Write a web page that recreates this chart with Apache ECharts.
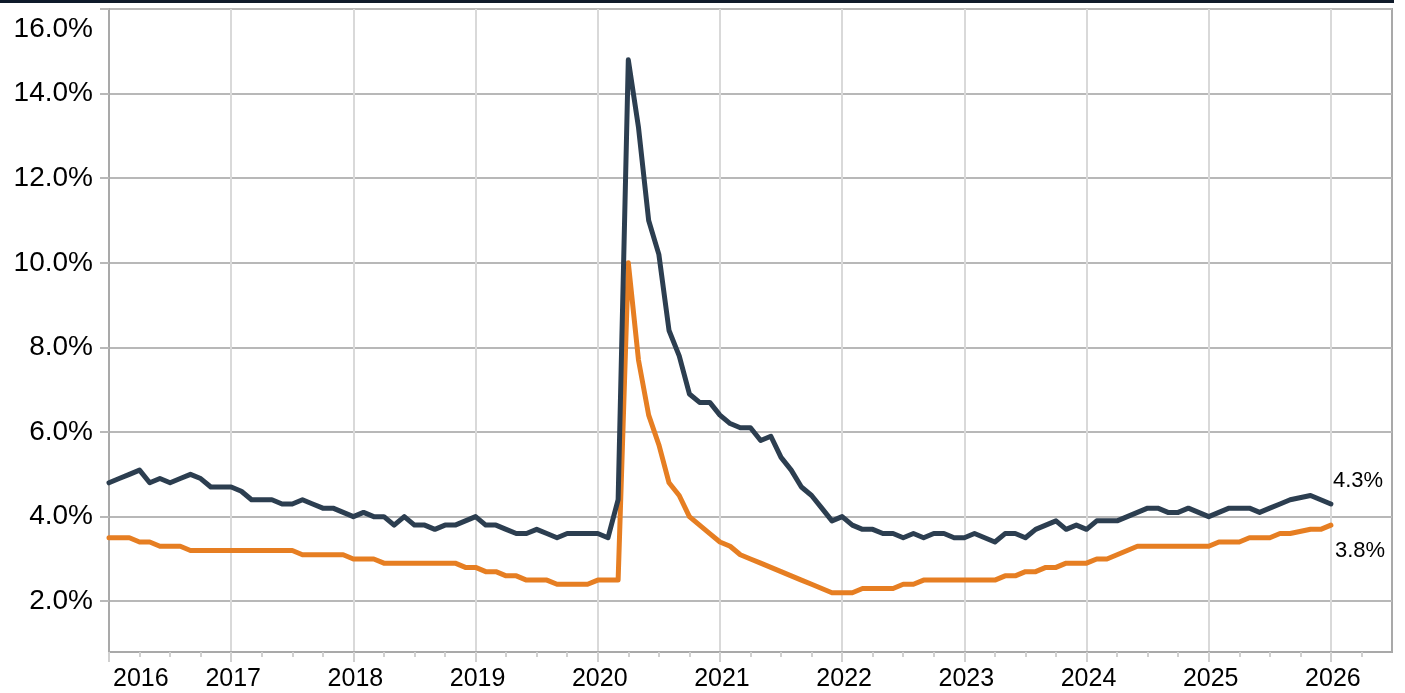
<!DOCTYPE html>
<html><head><meta charset="utf-8">
<script src="https://cdn.jsdelivr.net/npm/echarts@6/dist/echarts.min.js"></script>
<style>html,body{margin:0;padding:0;background:#fff;}#c{width:1405px;height:693px;}</style>
</head><body><div id="c"></div>
<script>
// Monthly data, Jan 2016 .. Jan 2026 (null = no published value)
const startYear = 2016;
const darkSeries = [
  4.8,4.9,5.0,5.1,4.8,4.9,4.8,4.9,5.0,4.9,4.7,4.7,
  4.7,4.6,4.4,4.4,4.4,4.3,4.3,4.4,4.3,4.2,4.2,4.1,
  4.0,4.1,4.0,4.0,3.8,4.0,3.8,3.8,3.7,3.8,3.8,3.9,
  4.0,3.8,3.8,3.7,3.6,3.6,3.7,3.6,3.5,3.6,3.6,3.6,
  3.6,3.5,4.4,14.8,13.2,11.0,10.2,8.4,7.8,6.9,6.7,6.7,
  6.4,6.2,6.1,6.1,5.8,5.9,5.4,5.1,4.7,4.5,4.2,3.9,
  4.0,3.8,3.7,3.7,3.6,3.6,3.5,3.6,3.5,3.6,3.6,3.5,
  3.5,3.6,3.5,3.4,3.6,3.6,3.5,3.7,3.8,3.9,3.7,3.8,
  3.7,3.9,3.9,3.9,4.0,4.1,4.2,4.2,4.1,4.1,4.2,4.1,
  4.0,4.1,4.2,4.2,4.2,4.1,4.2,4.3,4.4,null,4.5,4.4,
  4.3
];
const orangeSeries = [
  3.5,3.5,3.5,3.4,3.4,3.3,3.3,3.3,3.2,3.2,3.2,3.2,
  3.2,3.2,3.2,3.2,3.2,3.2,3.2,3.1,3.1,3.1,3.1,3.1,
  3.0,3.0,3.0,2.9,2.9,2.9,2.9,2.9,2.9,2.9,2.9,2.8,
  2.8,2.7,2.7,2.6,2.6,2.5,2.5,2.5,2.4,2.4,2.4,2.4,
  2.5,2.5,2.5,10.0,7.7,6.4,5.7,4.8,4.5,4.0,3.8,3.6,
  3.4,3.3,3.1,3.0,2.9,2.8,2.7,2.6,2.5,2.4,2.3,2.2,
  2.2,2.2,2.3,2.3,2.3,2.3,2.4,2.4,2.5,2.5,2.5,2.5,
  2.5,2.5,2.5,2.5,2.6,2.6,2.7,2.7,2.8,2.8,2.9,2.9,
  2.9,3.0,3.0,3.1,3.2,3.3,3.3,3.3,3.3,3.3,3.3,3.3,
  3.3,3.4,3.4,3.4,3.5,3.5,3.5,3.6,3.6,null,3.7,3.7,
  3.8
];
const yTicks = [2,4,6,8,10,12,14,16];
const xYears = [2016,2017,2018,2019,2020,2021,2022,2023,2024,2025,2026];
const xMin = 2016, xMax = 2026.5, yMin = 0.8, yMax = 16;

const FONT = '"Liberation Sans", Arial, sans-serif';
const xQuarters = [];
xYears.forEach(y => [0.25,0.5,0.75].forEach(q => { if (y + q < xMax) xQuarters.push(y + q); }));

const toXY = arr => arr.map((v, i) => [startYear + i / 12, v]);

const chart = echarts.init(document.getElementById('c'), null, {renderer: 'canvas'});
chart.setOption({
  animation: false,
  backgroundColor: '#fff',
  graphic: [{type: 'rect', left: 0, top: 0, shape: {width: 1394, height: 3}, style: {fill: '#0f1a2a'}}],
  grid: {left: 109, right: 13, top: 9, bottom: 41, show: true, borderColor: '#a9a9a9', borderWidth: 2, outerBoundsMode: 'none', containLabel: false},
  xAxis: [{
    type: 'value', min: xMin, max: xMax, interval: 1, position: 'bottom',
    axisLine: {show: true, onZero: false, lineStyle: {color: '#a9a9a9', width: 2}},
    axisTick: {show: true, length: 10, customValues: xYears, lineStyle: {color: '#d0d0d0', width: 2}},
    axisLabel: {customValues: xYears, formatter: v => String(Math.round(v)), fontSize: 25, color: '#000', fontFamily: FONT, margin: 15, alignMinLabel: 'left', padding: [0,0,0,4]},
    splitLine: {show: true, lineStyle: {color: '#d9d9d9', width: 2}}
  }, {
    type: 'value', min: xMin, max: xMax, interval: 0.25, position: 'bottom', offset: 0,
    axisLine: {show: false},
    axisTick: {show: true, length: 5, customValues: xQuarters, lineStyle: {color: '#d0d0d0', width: 2}},
    axisLabel: {show: false},
    splitLine: {show: false}
  }],
  yAxis: {
    type: 'value', min: yMin, max: yMax,
    axisLine: {show: true, onZero: false, lineStyle: {color: '#a9a9a9', width: 2}},
    axisTick: {show: true, length: 9, customValues: yTicks, lineStyle: {color: '#b8b8b8', width: 2}},
    axisLabel: {
      customValues: yTicks, fontSize: 28, color: '#000', fontFamily: FONT, margin: 16,
      formatter: v => v === yMax ? '{t|' + v.toFixed(1) + '%}' : v.toFixed(1) + '%',
      rich: {t: {fontSize: 28, color: '#000', fontFamily: FONT, padding: [40, 0, 0, 0]}}
    },
    splitLine: {show: true, lineStyle: {color: '#b8b8b8', width: 2}}
  },
  series: [{
    type: 'line', xAxisIndex: 0, data: toXY(orangeSeries), connectNulls: true, showSymbol: false, symbol: 'none',
    lineStyle: {color: '#e67e22', width: 5, join: 'round', cap: 'round'}, z: 3,
    endLabel: {show: true, distance: 0, offset: [4, 26], formatter: p => p.value[1].toFixed(1) + '%', fontSize: 22, color: '#000', fontFamily: FONT}
  }, {
    type: 'line', xAxisIndex: 0, data: toXY(darkSeries), connectNulls: true, showSymbol: false, symbol: 'none',
    lineStyle: {color: '#2c3e50', width: 5, join: 'round', cap: 'round'}, z: 4,
    endLabel: {show: true, distance: 0, offset: [2, -23], formatter: p => p.value[1].toFixed(1) + '%', fontSize: 22, color: '#000', fontFamily: FONT}
  }]
});
</script></body></html>
